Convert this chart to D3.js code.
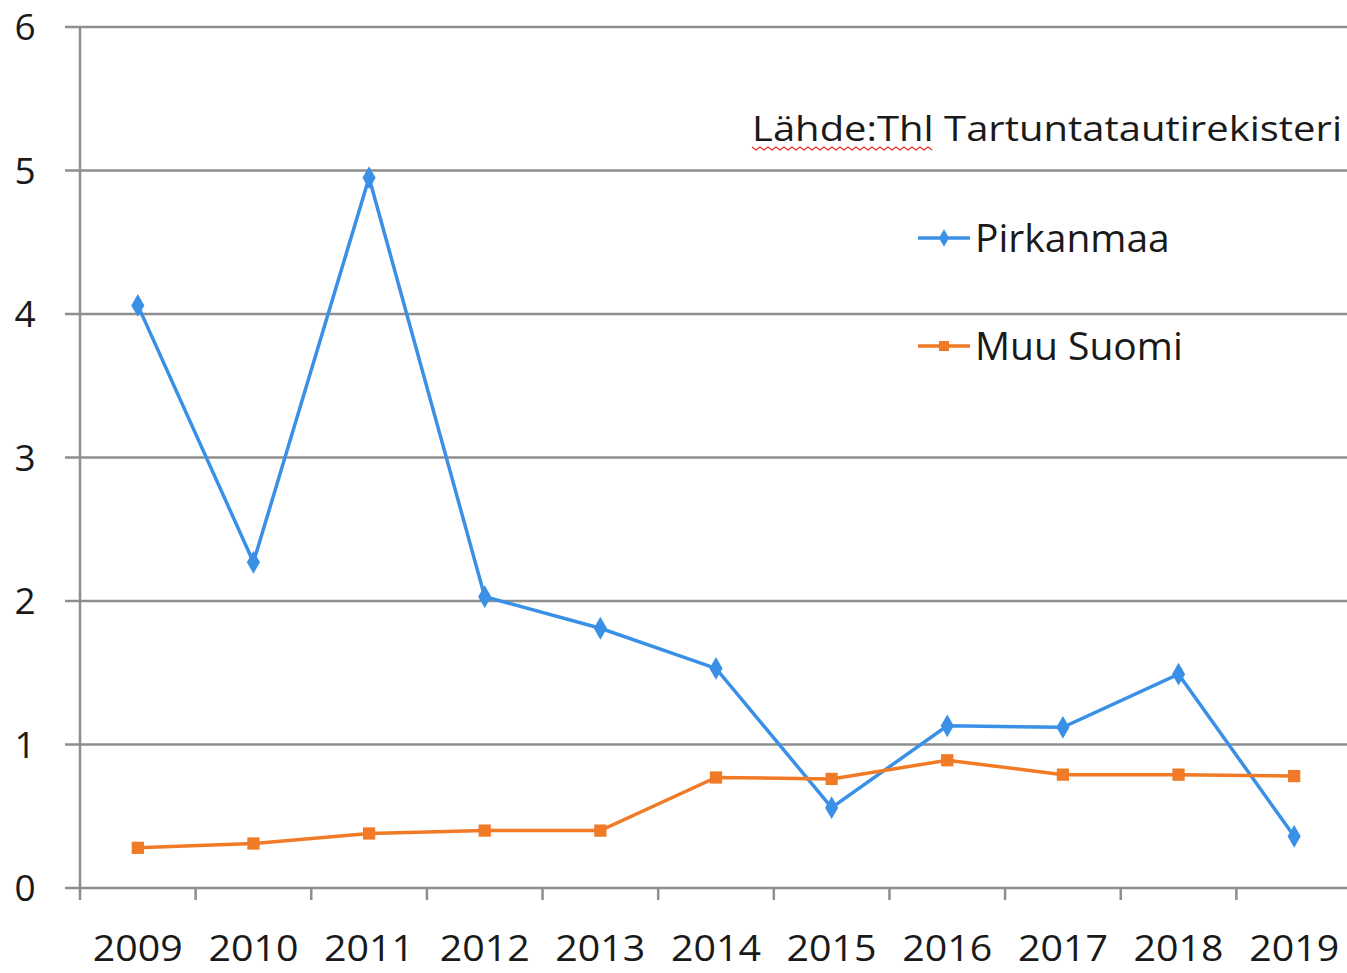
<!DOCTYPE html>
<html>
<head>
<meta charset="utf-8">
<script src="https://cdn.jsdelivr.net/npm/d3@7"></script>
<style>
  body { margin: 0; background: #fff; }
  svg text { font-family: "Open Sans", sans-serif; fill: #1a1a1a; }
</style>
</head>
<body>
<script>
// data
var years = ["2009", "2010", "2011", "2012", "2013", "2014", "2015", "2016", "2017", "2018", "2019"];
var pirkanmaa = [4.06, 2.27, 4.95, 2.03, 1.81, 1.53, 0.56, 1.13, 1.12, 1.49, 0.36];
var muuSuomi = [0.28, 0.31, 0.38, 0.40, 0.40, 0.77, 0.76, 0.89, 0.79, 0.79, 0.78];
var yTicks = [0, 1, 2, 3, 4, 5, 6];
var sourceText = "Lähde:Thl Tartuntatautirekisteri";

var width = 1347, height = 973;
var blue = "#3a90e6", orange = "#f07a26", grid = "#8e8e8e";

var svg = d3.select("body").append("svg")
    .attr("width", width)
    .attr("height", height);

var x = d3.scaleBand().domain(years).range([80, 1352]);
var y = d3.scaleLinear().domain([0, 6]).range([888, 27]);

// horizontal gridlines
svg.append("g")
    .selectAll("line")
    .data(yTicks)
    .enter().append("line")
    .attr("x1", 65)
    .attr("x2", width)
    .attr("y1", d => y(d))
    .attr("y2", d => y(d))
    .style("stroke", grid)
    .style("stroke-width", 2.5);

// y axis line
svg.append("line")
    .attr("x1", 80).attr("x2", 80)
    .attr("y1", y(6)).attr("y2", 900)
    .style("stroke", grid)
    .style("stroke-width", 2.5);

// x ticks between categories
svg.append("g")
    .selectAll("line")
    .data(years)
    .enter().append("line")
    .attr("x1", d => x(d) + x.bandwidth())
    .attr("x2", d => x(d) + x.bandwidth())
    .attr("y1", y(0))
    .attr("y2", 900)
    .style("stroke", grid)
    .style("stroke-width", 2.5);

// y labels
svg.append("g")
    .selectAll("text")
    .data(yTicks)
    .enter().append("text")
    .attr("x", 25)
    .attr("y", d => y(d) + 13)
    .attr("text-anchor", "middle")
    .style("font-size", "37px")
    .text(d => d);

// x labels
svg.append("g")
    .selectAll("text")
    .data(years)
    .enter().append("text")
    .attr("x", d => x(d) + x.bandwidth() / 2)
    .attr("y", 961)
    .attr("text-anchor", "middle")
    .style("font-size", "37px")
    .attr("textLength", 90)
    .attr("lengthAdjust", "spacingAndGlyphs")
    .text(d => d);

var line = d3.line()
    .x((d, i) => x(years[i]) + x.bandwidth() / 2)
    .y(d => y(d));

function drawSeries(values, color, symbol, size) {
  svg.append("path")
      .datum(values)
      .attr("d", line)
      .style("fill", "none")
      .style("stroke", color)
      .style("stroke-width", 3.5);

  svg.append("g")
      .selectAll("path")
      .data(values)
      .enter().append("path")
      .attr("d", d3.symbol().type(symbol).size(size))
      .attr("transform", (d, i) => "translate(" + (x(years[i]) + x.bandwidth() / 2) + "," + y(d) + ")")
      .style("fill", color);
}

drawSeries(pirkanmaa, blue, d3.symbolDiamond, 150);
drawSeries(muuSuomi, orange, d3.symbolSquare, 150);

// source note
svg.append("text")
    .attr("x", 752)
    .attr("y", 141)
    .style("font-size", "35px")
    .attr("textLength", 590)
    .attr("lengthAdjust", "spacingAndGlyphs")
    .text(sourceText);

// spell-check squiggle under "Lähde:Thl"
var squiggle = d3.range(752, 936, 4).map((px, i) => [px, 148 + (i % 2 ? 2 : -1)]);
svg.append("path")
    .attr("d", d3.line()(squiggle))
    .style("fill", "none")
    .style("stroke", "#e0302a")
    .style("stroke-width", 1.3);

// legend
var legend = [
  {name: "Pirkanmaa", color: blue, symbol: d3.symbolDiamond, size: 90, y: 238},
  {name: "Muu Suomi", color: orange, symbol: d3.symbolSquare, size: 100, y: 346}
];

var lg = svg.append("g")
    .selectAll("g")
    .data(legend)
    .enter().append("g")
    .attr("transform", d => "translate(0," + d.y + ")");

lg.append("line")
    .attr("x1", 918).attr("x2", 970)
    .attr("y1", 0).attr("y2", 0)
    .style("stroke", d => d.color)
    .style("stroke-width", 3.5);

lg.append("path")
    .attr("d", d => d3.symbol().type(d.symbol).size(d.size)())
    .attr("transform", "translate(944,0)")
    .style("fill", d => d.color);

lg.append("text")
    .attr("x", 975)
    .attr("y", 14)
    .style("font-size", "39px")
    .text(d => d.name);
</script>
</body>
</html>
